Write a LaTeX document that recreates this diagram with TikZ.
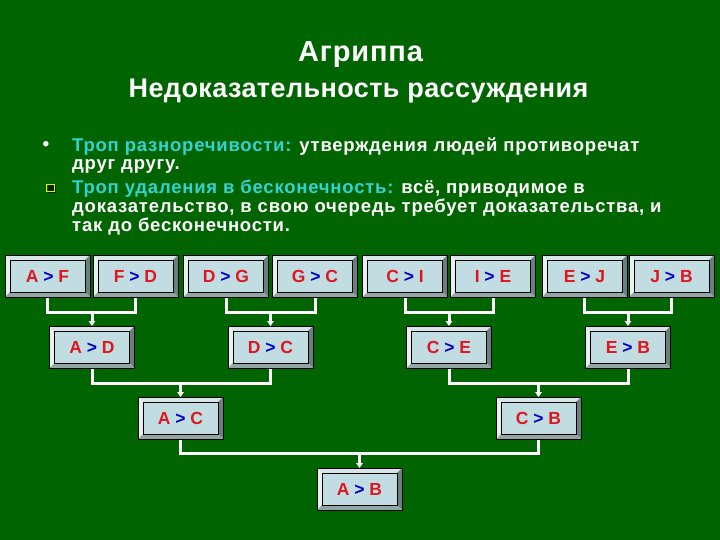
\documentclass[tikz,border=0pt]{standalone}
\usepackage{fontspec}
\setmainfont{Liberation Sans}
\newfontfamily\bodyfont[LetterSpace=4.2]{Liberation Sans}
\newfontfamily\titlefont[LetterSpace=3]{Liberation Sans}
\newfontfamily\subfont[LetterSpace=1.5]{Liberation Sans}
\usetikzlibrary{arrows.meta}
\definecolor{bg}{RGB}{0,100,0}
\definecolor{face}{RGB}{194,221,226}
\definecolor{bevtop}{RGB}{214,229,231}
\definecolor{bevleft}{RGB}{232,241,241}
\definecolor{bevright}{RGB}{104,128,128}
\definecolor{bevbot}{RGB}{146,166,166}
\definecolor{lred}{RGB}{222,22,32}
\definecolor{lblue}{RGB}{0,0,200}
\definecolor{tcyan}{RGB}{51,210,210}
\definecolor{tyellow}{RGB}{235,235,0}
\newcommand{\rel}[2]{\textcolor{lred}{#1}~\textcolor{lblue}{>}~\textcolor{lred}{#2}}
\begin{document}
\begin{tikzpicture}[x=1pt,y=-1pt,
  bevbox/.style={minimum width=85pt, minimum height=42pt, inner sep=0pt, outer sep=0pt,
    fill=face, draw=black, line width=0.8pt, text height=12.6pt, text depth=0pt,
    font=\bfseries\fontsize{17.5}{17.5}\selectfont,
    path picture={
      \coordinate (NW) at (path picture bounding box.north west);
      \coordinate (NE) at (path picture bounding box.north east);
      \coordinate (SW) at (path picture bounding box.south west);
      \coordinate (SE) at (path picture bounding box.south east);
      \fill[bevtop] (NW) -- (NE) -- ([xshift=-5pt,yshift=-5pt]NE) -- ([xshift=5pt,yshift=-5pt]NW) -- cycle;
      \fill[bevleft] (NW) -- (SW) -- ([xshift=5pt,yshift=5pt]SW) -- ([xshift=5pt,yshift=-5pt]NW) -- cycle;
      \fill[bevright] (NE) -- (SE) -- ([xshift=-5pt,yshift=5pt]SE) -- ([xshift=-5pt,yshift=-5pt]NE) -- cycle;
      \fill[bevbot] (SW) -- (SE) -- ([xshift=-5pt,yshift=5pt]SE) -- ([xshift=5pt,yshift=5pt]SW) -- cycle;
      \draw[black, line width=0.8pt] ([xshift=5pt,yshift=-5pt]NW) rectangle ([xshift=-5pt,yshift=5pt]SE);
    }},
  conn/.style={draw=white, line width=3pt, line join=miter},
  arr/.style={conn, -{Triangle[width=6.5pt,length=5pt]}},
  txt/.style={anchor=base west, inner sep=0pt, text=white, font=\bodyfont\bfseries\fontsize{18.5}{18.5}\selectfont}
]
\fill[bg] (0,0) rectangle (720,540);

% titles
\node[anchor=base, inner sep=0pt, text=white, font=\titlefont\bfseries\fontsize{29}{29}\selectfont] (title) at (360.5,62) {Агриппа};
\node[anchor=base, inner sep=0pt, text=white, font=\subfont\bfseries\fontsize{27}{27}\selectfont] (subtitle) at (358.5,98) {Недоказательность рассуждения};

% bullets
\node[anchor=center, inner sep=0pt, text=white, font=\bfseries\fontsize{19}{19}\selectfont] (b1) at (46,146) {•};
\node[txt] (l1) at (72,152) {\textcolor{tcyan}{Троп разноречивости:} утверждения людей противоречат};
\node[txt] (l2) at (72,170) {друг другу.};
\fill[black!60!bg] (48,185) rectangle (56,193);
\node[draw=tyellow, line width=1.3pt, minimum size=7.5pt, inner sep=0pt] (sq) at (50.5,188) {};
\node[txt] (l3) at (72,194) {\textcolor{tcyan}{Троп удаления в бесконечность:} всё, приводимое в};
\node[txt] (l4) at (72,213) {доказательство, в свою очередь требует доказательства, и};
\node[txt] (l5) at (72,232) {так до бесконечности.};

% top row
\node[bevbox] (t1) at (47.5,276) {\rel{A}{F}};
\node[bevbox] (t2) at (135.5,276) {\rel{F}{D}};
\node[bevbox] (t3) at (226,276) {\rel{D}{G}};
\node[bevbox] (t4) at (315,276) {\rel{G}{C}};
\node[bevbox] (t5) at (405,276) {\rel{C}{I}};
\node[bevbox] (t6) at (493,276) {\rel{I}{E}};
\node[bevbox] (t7) at (584.5,276) {\rel{E}{J}};
\node[bevbox] (t8) at (671.5,276) {\rel{J}{B}};
% middle row
\node[bevbox] (m1) at (92,347) {\rel{A}{D}};
\node[bevbox] (m2) at (270.5,347) {\rel{D}{C}};
\node[bevbox] (m3) at (449,347) {\rel{C}{E}};
\node[bevbox] (m4) at (628,347) {\rel{E}{B}};
% third row
\node[bevbox] (n1) at (180.5,418) {\rel{A}{C}};
\node[bevbox] (n2) at (538.5,418) {\rel{C}{B}};
% bottom
\node[bevbox] (fin) at (359.5,489) {\rel{A}{B}};

% junctions
\coordinate (j1) at (92,312);
\coordinate (j2) at (270.5,312);
\coordinate (j3) at (449,312);
\coordinate (j4) at (628,312);
\coordinate (k1) at (180.5,383);
\coordinate (k2) at (538.5,383);
\coordinate (q1) at (359.5,453);

\draw[conn] ([yshift=-1pt]t1.south) |- (j1) -| ([yshift=-1pt]t2.south);
\draw[conn] ([yshift=-1pt]t3.south) |- (j2) -| ([yshift=-1pt]t4.south);
\draw[conn] ([yshift=-1pt]t5.south) |- (j3) -| ([yshift=-1pt]t6.south);
\draw[conn] ([yshift=-1pt]t7.south) |- (j4) -| ([yshift=-1pt]t8.south);
\draw[arr] (j1) -- (m1.north);
\draw[arr] (j2) -- (m2.north);
\draw[arr] (j3) -- (m3.north);
\draw[arr] (j4) -- (m4.north);

\draw[conn] ([yshift=-1pt]m1.south) |- (k1) -| ([yshift=-1pt]m2.south);
\draw[conn] ([yshift=-1pt]m3.south) |- (k2) -| ([yshift=-1pt]m4.south);
\draw[arr] (k1) -- (n1.north);
\draw[arr] (k2) -- (n2.north);

\draw[conn] ([yshift=-1pt]n1.south) |- (q1) -| ([yshift=-1pt]n2.south);
\draw[arr] (q1) -- (fin.north);
\end{tikzpicture}
\end{document}
